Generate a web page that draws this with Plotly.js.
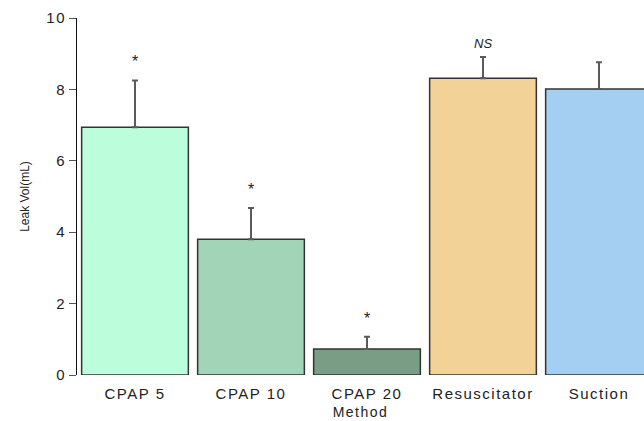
<!DOCTYPE html>
<html>
<head>
<meta charset="utf-8">
<script src="https://cdn.plot.ly/plotly-3.0.1.min.js"></script>
<style>
html,body{margin:0;padding:0;background:#fff;}
#chart{width:644px;height:421px;}
.xtick text, .ytick text, .g-xtitle text { letter-spacing: 1.5px; }
</style>
</head>
<body>
<div id="chart"></div>
<script>
const categories = ["CPAP 5", "CPAP 10", "CPAP 20", "Resuscitator", "Suction"];
const means = [6.94, 3.80, 0.73, 8.31, 8.01];
const errUp = [1.31, 0.88, 0.34, 0.60, 0.75];
const barColors = ["#bcfedc", "#a2d4b7", "#789e86", "#f3d298", "#a4cff2"];
const sigLabels = ["*", "*", "*", "NS", ""];
const yTicks = [0, 2, 4, 6, 8, 10];

const trace = {
  type: "bar",
  x: categories,
  y: means,
  marker: {color: barColors, line: {color: "#333", width: 1.5}},
  error_y: {type: "data", symmetric: false, array: errUp, arrayminus: means.map(() => 0),
            color: "#5a5a5a", thickness: 2, width: 3},
  hoverinfo: "none"
};

const annotations = categories.map((c, i) => {
  if (!sigLabels[i]) return null;
  const isNS = sigLabels[i] === "NS";
  return {
    x: c, y: means[i] + errUp[i], xref: "x", yref: "y",
    text: isNS ? "<i>NS</i>" : "*",
    showarrow: false, yanchor: "bottom", yshift: isNS ? 4 : 8,
    font: {family: "Liberation Sans, Arial, sans-serif", size: isNS ? 13 : 16, color: "#222"}
  };
}).filter(a => a);

const layout = {
  width: 644, height: 421,
  margin: {l: 77, r: 0, t: 18, b: 46},
  paper_bgcolor: "#fff", plot_bgcolor: "#fff",
  showlegend: false,
  bargap: 0.08,
  font: {family: "Liberation Sans, Arial, sans-serif", color: "#222"},
  xaxis: {
    range: [-0.5, 4.388],
    showline: false, showgrid: false, zeroline: false, ticks: "",
    ticklabelstandoff: 8,
    tickfont: {size: 15, color: "#222"},
    title: {text: "Method", font: {size: 14, color: "#222"}, standoff: 6}
  },
  yaxis: {
    range: [0, 10],
    tickvals: yTicks,
    ticktext: yTicks.map(String),
    showline: true, linecolor: "#111", linewidth: 1,
    ticks: "outside", ticklen: 7, tickcolor: "#555",
    showgrid: false, zeroline: false,
    tickfont: {size: 15, color: "#222"},
    title: {text: "Leak Vol(mL)", font: {size: 12, color: "#222"}, standoff: 14}
  },
  annotations: annotations
};

Plotly.newPlot("chart", [trace], layout, {displayModeBar: false, staticPlot: true});
</script>
</body>
</html>
